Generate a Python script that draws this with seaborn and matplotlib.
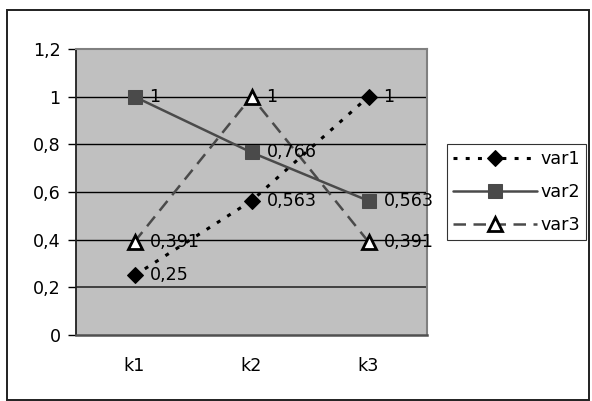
import matplotlib
matplotlib.use("Agg")
import matplotlib.pyplot as plt
from matplotlib.patches import Rectangle
import seaborn as sns
import pandas as pd

categories = ["k1", "k2", "k3"]
var1 = [0.25, 0.563, 1.0]
var2 = [1.0, 0.766, 0.563]
var3 = [0.391, 1.0, 0.391]
yticks = [0, 0.2, 0.4, 0.6, 0.8, 1.0, 1.2]

sns.set_style("white")
plt.rcParams["font.family"] = ["DejaVu Sans"]
plt.rcParams["text.color"] = "black"
plt.rcParams["xtick.color"] = "black"
plt.rcParams["ytick.color"] = "black"
plt.rcParams["axes.labelcolor"] = "black"
FS = 12.6

fig = plt.figure(figsize=(5.92, 4.01), dpi=100)
ax = fig.add_axes([76/592, (401-335)/401, 351/592, (335-49)/401])
ax.set_facecolor("#C0C0C0")

pos = list(range(len(categories)))
series = {
    "var1": (var1, dict(color="black", linestyle=(0, (1.3, 2.7)), linewidth=2.2,
                        marker="D", markersize=8.5, markerfacecolor="black",
                        markeredgecolor="black")),
    "var2": (var2, dict(color="#4a4a4a", linestyle="-", linewidth=1.8,
                        marker="s", markersize=10.5, markerfacecolor="#4a4a4a",
                        markeredgecolor="#4a4a4a")),
    "var3": (var3, dict(color="#4a4a4a", linestyle=(0, (5, 3)), linewidth=1.8,
                        marker="^", markersize=9.5, markerfacecolor="white",
                        markeredgecolor="black", markeredgewidth=2)),
}

for name, (vals, kw) in series.items():
    df = pd.DataFrame({"x": pos, "y": vals})
    sns.lineplot(data=df, x="x", y="y", ax=ax, label=name, **kw)
    for xi, yi in zip(pos, vals):
        txt = f"{yi:g}".replace(".", ",")
        ax.annotate(txt, (xi, yi), xytext=(15, 0), textcoords="offset pixels",
                    ha="left", va="center", fontsize=FS, color="black")

ax.set_xlim(-0.5, 2.5)
ax.set_ylim(0, 1.2)
ax.set_yticks(yticks)
ax.set_yticklabels([f"{t:g}".replace(".", ",") for t in yticks], fontsize=FS)
ax.set_xticks(pos)
ax.set_xticklabels(categories, fontsize=FS)
ax.set_xticks([-0.5, 0.5, 1.5, 2.5], minor=True)
ax.tick_params(axis="x", which="major", length=0, pad=16)
ax.tick_params(axis="x", which="minor", length=6, width=1, color="black", direction="out")
ax.tick_params(axis="y", which="major", length=6, width=1, color="black", direction="out", pad=5, left=True)
ax.set_xlabel("")
ax.set_ylabel("")

for t in [0.4, 0.6, 0.8, 1.0]:
    ax.axhline(t, color="black", linewidth=1, zorder=0.5)
ax.axhline(0.2, color="#404040", linewidth=1.4, zorder=0.5)

for s in ["top", "right"]:
    ax.spines[s].set_color("#808080")
    ax.spines[s].set_linewidth(1.5)
ax.spines["left"].set_color("#202020")
ax.spines["left"].set_linewidth(1.3)
ax.spines["bottom"].set_color("#505050")
ax.spines["bottom"].set_linewidth(1.8)

leg = ax.legend(loc="center left", bbox_to_anchor=(447/592, (401-192)/401),
                bbox_transform=fig.transFigure, frameon=True, fancybox=False,
                fontsize=FS, handlelength=4.8, handletextpad=0.2,
                borderpad=0.35, labelspacing=0.85, borderaxespad=0)
leg.get_frame().set_edgecolor("black")
leg.get_frame().set_linewidth(0.8)
leg.get_frame().set_facecolor("white")

fig.patches.append(Rectangle((7/592, 1/401), 582/592, 390/401, transform=fig.transFigure,
                             fill=False, edgecolor="#202020", linewidth=1.4))

fig.savefig("out.png", dpi=100)
